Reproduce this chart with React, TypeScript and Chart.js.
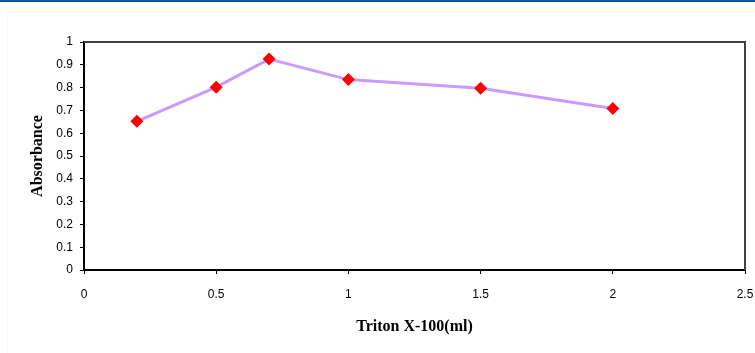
import React, { useEffect, useRef } from "react";
import { Chart, registerables } from "chart.js";

Chart.register(...registerables);

const tritonMl = [0.2, 0.5, 0.7, 1.0, 1.5, 2.0];
const absorbance = [0.652, 0.802, 0.925, 0.835, 0.797, 0.708];
const xTicks = [0, 0.5, 1, 1.5, 2, 2.5];
const yTicks = [0, 0.1, 0.2, 0.3, 0.4, 0.5, 0.6, 0.7, 0.8, 0.9, 1];
const xTitle = "Triton X-100(ml)";
const yTitle = "Absorbance";

const framePlugin = {
  id: "frame",
  beforeDraw(chart: any) {
    const { ctx, width } = chart;
    ctx.save();
    ctx.fillStyle = "#ffffff";
    ctx.fillRect(0, 0, chart.width, chart.height);
    ctx.fillStyle = "#0a56a3";
    ctx.fillRect(0, 0, width, 2);
    ctx.strokeStyle = "#fdfbd0";
    ctx.lineWidth = 1;
    ctx.beginPath();
    ctx.moveTo(width, 11.5);
    ctx.lineTo(7.5, 11.5);
    ctx.lineTo(7.5, chart.height);
    ctx.stroke();
    ctx.restore();
  },
  afterDatasetsDraw(chart: any) {
    const { ctx, chartArea } = chart;
    ctx.save();
    ctx.strokeStyle = "#404040";
    ctx.lineWidth = 2;
    ctx.beginPath();
    ctx.moveTo(chartArea.left, chartArea.top);
    ctx.lineTo(chartArea.right, chartArea.top);
    ctx.lineTo(chartArea.right, chartArea.bottom);
    ctx.stroke();
    ctx.restore();
  },
};

const fmt = (v: any) => String(Number(v));

export default function App() {
  const ref = useRef<HTMLCanvasElement>(null);
  useEffect(() => {
    document.body.style.margin = "0";
    const chart = new Chart(ref.current!, {
      type: "scatter",
      data: {
        datasets: [
          {
            data: tritonMl.map((x, i) => ({ x, y: absorbance[i] })),
            showLine: true,
            borderColor: "#cc99ff",
            borderWidth: 3,
            pointStyle: "rectRot",
            pointRadius: 6.5,
            pointBackgroundColor: "#ff0000",
            pointBorderColor: "#ff0000",
            pointBorderWidth: 0,
          },
        ],
      },
      options: {
        animation: false,
        responsive: false,
        layout: { padding: { left: 0, top: 42, right: 10, bottom: 0 } },
        plugins: { legend: { display: false }, tooltip: { enabled: false } },
        scales: {
          x: {
            type: "linear",
            min: 0,
            max: 2.5,
            afterBuildTicks: (s: any) => {
              s.ticks = xTicks.map((v) => ({ value: v }));
            },
            afterFit: (s: any) => {
              s.height = 83;
              s.paddingLeft = 0;
              s.paddingRight = 0;
            },
            ticks: {
              color: "#000",
              font: { family: "Liberation Sans", size: 12 },
              padding: 13,
              maxRotation: 0,
              callback: fmt,
            },
            grid: { drawOnChartArea: false, tickLength: 4, color: "#000", lineWidth: 1 },
            border: { color: "#000", width: 2 },
            title: {
              display: true,
              text: xTitle,
              color: "#000",
              font: { family: "Liberation Serif", size: 16, weight: "bold" },
              padding: { top: 0, bottom: 17 },
            },
          },
          y: {
            type: "linear",
            min: 0,
            max: 1,
            afterBuildTicks: (s: any) => {
              s.ticks = yTicks.map((v) => ({ value: v }));
            },
            afterFit: (s: any) => {
              s.width = 84;
              s.paddingTop = 0;
              s.paddingBottom = 0;
            },
            ticks: {
              color: "#000",
              font: { family: "Liberation Sans", size: 12 },
              padding: 7,
              callback: fmt,
            },
            grid: { drawOnChartArea: false, tickLength: 4, color: "#000", lineWidth: 1 },
            border: { color: "#000", width: 2 },
            title: {
              display: true,
              text: yTitle,
              color: "#000",
              font: { family: "Liberation Serif", size: 16, weight: "bold" },
              padding: { top: 28, bottom: 0 },
            },
          },
        },
      },
      plugins: [framePlugin],
    } as any);
    return () => chart.destroy();
  }, []);
  return <canvas ref={ref} width={755} height={353} style={{ display: "block" }} />;
}
